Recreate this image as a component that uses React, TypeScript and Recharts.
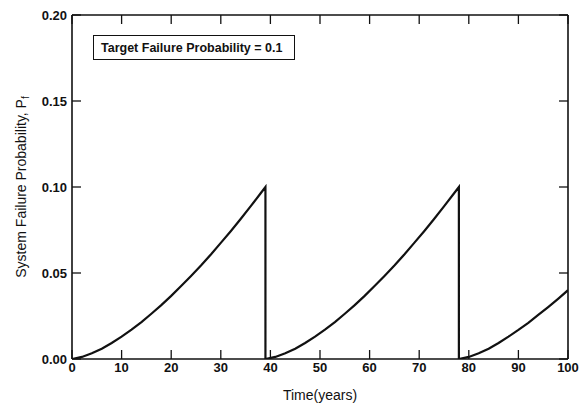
import { LineChart, Line, XAxis, YAxis, Label } from 'recharts';

// ── Data ───────────────────────────────────────────

// first maintenance cycle (years 0 → 39)
const cycle1Time = [0, 2, 4, 6, 8, 10, 12, 14, 16, 18, 20, 22, 24, 26, 28, 30, 32, 34, 36, 38, 39];
const cycle1Pf = [
  0, 0.0012, 0.0033, 0.006, 0.0093, 0.013, 0.0171, 0.0215, 0.0263, 0.0313, 0.0367,
  0.0424, 0.0483, 0.0544, 0.0608, 0.0675, 0.0743, 0.0814, 0.0887, 0.0962, 0.1,
];

// second cycle (years 39 → 78)
const cycle2Time = [39, 41, 43, 45, 47, 49, 51, 53, 55, 57, 59, 61, 63, 65, 67, 69, 71, 73, 75, 77, 78];
const cycle2Pf = [
  0, 0.0012, 0.0033, 0.006, 0.0093, 0.013, 0.0171, 0.0215, 0.0263, 0.0313, 0.0367,
  0.0424, 0.0483, 0.0544, 0.0608, 0.0675, 0.0743, 0.0814, 0.0887, 0.0962, 0.1,
];

// third cycle (years 78 → 100)
const cycle3Time = [78, 80, 82, 84, 86, 88, 90, 92, 94, 96, 98, 100];
const cycle3Pf = [0, 0.0012, 0.0033, 0.006, 0.0093, 0.013, 0.0169, 0.021, 0.0256, 0.0302, 0.035, 0.04];

const xTicks = [0, 10, 20, 30, 40, 50, 60, 70, 80, 90, 100];
const yTicks = [0, 0.05, 0.1, 0.15, 0.2];

const targetLabel = 'Target Failure Probability = 0.1';

const series = [
  ...cycle1Time.map((t, i) => ({ t, pf: cycle1Pf[i] })),
  ...cycle2Time.map((t, i) => ({ t, pf: cycle2Pf[i] })),
  ...cycle3Time.map((t, i) => ({ t, pf: cycle3Pf[i] })),
];

// ── Styles ─────────────────────────────────────────

const FONT = '"Liberation Sans", Arial, sans-serif';
const INK = '#111';
const TICK = 9;
const axisLine = { stroke: INK, strokeWidth: 1.6 };

// ── Ticks (drawn inward, labels only on bottom/left) ──

type TickProps = { x?: number; y?: number; payload?: { value: number } };

function BottomTick({ x = 0, y = 0, payload }: TickProps) {
  return (
    <g>
      <line x1={x} x2={x} y1={y} y2={y - TICK} stroke={INK} strokeWidth={1.3} />
      <text
        x={x}
        y={y + 13}
        textAnchor="middle"
        fontSize={13}
        fontWeight={700}
        fontFamily={FONT}
        fill={INK}
      >
        {payload?.value}
      </text>
    </g>
  );
}

function TopTick({ x = 0, y = 0 }: TickProps) {
  return <line x1={x} x2={x} y1={y} y2={y + TICK} stroke={INK} strokeWidth={1.3} />;
}

function LeftTick({ x = 0, y = 0, payload }: TickProps) {
  return (
    <g>
      <line x1={x} x2={x + TICK} y1={y} y2={y} stroke={INK} strokeWidth={1.3} />
      <text
        x={x - 5}
        y={y + 4.5}
        textAnchor="end"
        fontSize={13}
        fontWeight={700}
        fontFamily={FONT}
        fill={INK}
      >
        {(payload?.value ?? 0).toFixed(2)}
      </text>
    </g>
  );
}

function RightTick({ x = 0, y = 0 }: TickProps) {
  return <line x1={x} x2={x - TICK} y1={y} y2={y} stroke={INK} strokeWidth={1.3} />;
}

// ── Labels ─────────────────────────────────────────

function YTitle() {
  return (
    <text
      x={21}
      y={187}
      transform="rotate(-90 21 187)"
      textAnchor="middle"
      dominantBaseline="central"
      fontSize={14}
      fontFamily={FONT}
      fill={INK}
    >
      System Failure Probability, P
      <tspan fontSize={10} dy={4}>f</tspan>
    </text>
  );
}

function XTitle() {
  return (
    <text x={320} y={400} textAnchor="middle" fontSize={14} fontFamily={FONT} fill={INK}>
      Time(years)
    </text>
  );
}

// ── Component ──────────────────────────────────────

export default function App() {
  return (
    <div
      style={{
        position: 'absolute',
        left: 0,
        top: 0,
        width: 588,
        height: 407,
        background: '#fff',
        fontFamily: FONT,
      }}
    >
      <LineChart
        width={588}
        height={407}
        data={series}
        margin={{ top: 14, right: 19, bottom: 8, left: 12 }}
      >
        <XAxis
          xAxisId="main"
          dataKey="t"
          type="number"
          domain={[0, 100]}
          ticks={xTicks}
          orientation="bottom"
          height={40}
          tickSize={0}
          tickMargin={0}
          axisLine={axisLine}
          tickLine={false}
          tick={<BottomTick />}
          interval={0}
          allowDataOverflow
        >
          <Label content={<XTitle />} />
        </XAxis>
        <XAxis
          xAxisId="top"
          dataKey="t"
          type="number"
          domain={[0, 100]}
          ticks={xTicks}
          orientation="top"
          height={1}
          tickSize={0}
          tickMargin={0}
          axisLine={axisLine}
          tickLine={false}
          tick={<TopTick />}
          interval={0}
          allowDataOverflow
        />
        <YAxis
          yAxisId="main"
          type="number"
          domain={[0, 0.2]}
          ticks={yTicks}
          width={60}
          tickSize={0}
          tickMargin={0}
          axisLine={axisLine}
          tickLine={false}
          tick={<LeftTick />}
          interval={0}
          allowDataOverflow
        >
          <Label content={<YTitle />} />
        </YAxis>
        <YAxis
          yAxisId="right"
          type="number"
          domain={[0, 0.2]}
          ticks={yTicks}
          orientation="right"
          width={1}
          tickSize={0}
          tickMargin={0}
          axisLine={axisLine}
          tickLine={false}
          tick={<RightTick />}
          interval={0}
          allowDataOverflow
        />
        {/* invisible twin so the mirrored frame axes are bound to a series */}
        <Line
          xAxisId="top"
          yAxisId="right"
          dataKey="pf"
          stroke="none"
          dot={false}
          activeDot={false}
          isAnimationActive={false}
        />
        <Line
          xAxisId="main"
          yAxisId="main"
          dataKey="pf"
          type="linear"
          stroke={INK}
          strokeWidth={2.2}
          dot={false}
          isAnimationActive={false}
        />
      </LineChart>
      <div
        style={{
          position: 'absolute',
          left: 93,
          top: 35,
          width: 202,
          height: 25,
          boxSizing: 'border-box',
          border: `1.3px solid ${INK}`,
          background: '#fff',
          display: 'flex',
          alignItems: 'center',
          paddingLeft: 7,
          fontSize: 12.5,
          fontWeight: 700,
          color: INK,
          whiteSpace: 'nowrap',
        }}
      >
        {targetLabel}
      </div>
    </div>
  );
}
